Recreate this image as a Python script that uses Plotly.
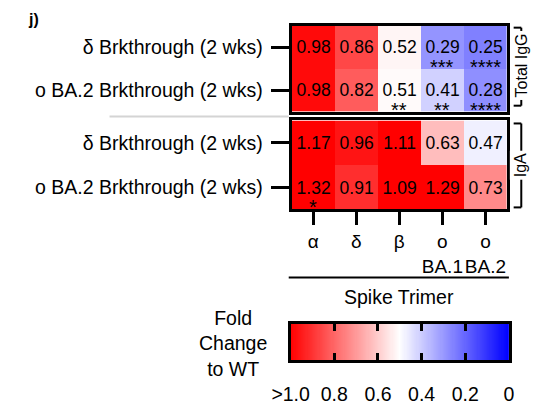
import plotly.graph_objects as go

W, H = 533, 405
FONT = "Arial, 'Liberation Sans', Helvetica, sans-serif"

# ---- data -------------------------------------------------------------
spike_labels = ["α", "δ", "β", "o<br>BA.1", "o<br>BA.2"]
cohorts = ["δ Brkthrough (2 wks)", "o BA.2 Brkthrough (2 wks)"]

igg_fold = [[0.98, 0.86, 0.52, 0.29, 0.25],
            [0.98, 0.82, 0.51, 0.41, 0.28]]
iga_fold = [[1.17, 0.96, 1.11, 0.63, 0.47],
            [1.32, 0.91, 1.09, 1.29, 0.73]]

igg_sig = [["", "", "", "***", "****"],
           ["", "", "**", "**", "****"]]
iga_sig = [["", "", "", "", ""],
           ["*", "", "", "", ""]]

bar_ticks = [1.0, 0.8, 0.6, 0.4, 0.2, 0.0]
bar_ticktext = [">1.0", "0.8", "0.6", "0.4", "0.2", "0"]

# blue (0) -> white (0.5) -> red (>=1)
scale = [[0.0, "rgb(0,0,255)"], [0.5, "rgb(255,255,255)"], [1.0, "rgb(255,0,0)"]]


def px(x):
    return x / W


def py(y):
    return 1 - y / H


fig = go.Figure()

cols = list(range(len(spike_labels)))
rows = list(range(len(cohorts)))

for z, xa, ya in [(igg_fold, "x", "y"), (iga_fold, "x2", "y2")]:
    fig.add_trace(go.Heatmap(
        z=z, x=cols, y=rows, colorscale=scale, zmin=0, zmax=1,
        showscale=False, texttemplate="%{z:.2f}",
        textfont=dict(size=17.5, color="black", family=FONT),
        xaxis=xa, yaxis=ya, hoverinfo="skip"))

# gradient strip used as the colour key (reversed axis: red on the left)
grad = [i / 200 for i in range(201)]
fig.add_trace(go.Heatmap(
    z=[grad], x=grad, y=[0], colorscale=scale, zmin=0, zmax=1,
    showscale=False, xaxis="x3", yaxis="y3", hoverinfo="skip"))

frame = dict(showline=True, linecolor="black", linewidth=3, mirror=True,
             zeroline=False, showgrid=False)
tickfont = dict(size=19.5, color="black", family=FONT)

x_dom = [px(286), px(512)]
fig.update_layout(
    width=W, height=H, margin=dict(l=0, r=0, t=0, b=0),
    paper_bgcolor="white", plot_bgcolor="white",
    font=dict(family=FONT, color="black"),
    xaxis=dict(domain=x_dom, range=[-0.5, 4.5], anchor="y",
               showticklabels=False, ticks="", **frame),
    yaxis=dict(domain=[py(113), py(26)], range=[1.5, -0.5], anchor="x",
               tickvals=rows, ticktext=cohorts, ticks="outside",
               ticklen=18, tickwidth=3, tickcolor="black",
               ticklabelstandoff=4, tickfont=tickfont, **frame),
    xaxis2=dict(domain=x_dom, range=[-0.5, 4.5], anchor="y2",
                tickvals=cols, ticktext=spike_labels, ticks="outside",
                ticklen=13, tickwidth=3, tickcolor="black", tickangle=0,
                tickfont=dict(size=19, color="black", family=FONT), **frame),
    yaxis2=dict(domain=[py(212), py(122)], range=[1.5, -0.5], anchor="x2",
                tickvals=rows, ticktext=cohorts, ticks="outside",
                ticklen=18, tickwidth=3, tickcolor="black",
                ticklabelstandoff=4, tickfont=tickfont, **frame),
    xaxis3=dict(domain=[px(285), px(514)], range=[1, 0], anchor="y3",
                tickvals=bar_ticks, ticktext=bar_ticktext, ticks="inside",
                ticklen=7, tickwidth=3, tickcolor="black", tickangle=0,
                ticklabelstandoff=14, tickfont=tickfont,
                showline=True, linecolor="black", linewidth=3, mirror="ticks",
                zeroline=False, showgrid=False),
    yaxis3=dict(domain=[py(365), py(328)], range=[-0.5, 0.5], anchor="x3",
                showticklabels=False, ticks="", **frame),
)

# significance stars under the values
ann = []
for sig, xa, ya in [(igg_sig, "x", "y"), (iga_sig, "x2", "y2")]:
    for i, r in enumerate(sig):
        for j, s in enumerate(r):
            if s:
                ann.append(dict(x=j, y=i, xref=xa, yref=ya, text=s,
                                showarrow=False, yshift=-20,
                                xanchor="center", yanchor="middle",
                                font=dict(size=20, color="black", family=FONT)))


def label(x, y, text, size=19.5, **kw):
    return dict(x=px(x), y=py(y), xref="paper", yref="paper", text=text,
                showarrow=False, xanchor=kw.pop("xanchor", "center"),
                yanchor="middle",
                font=dict(size=size, color="black", family=FONT), **kw)


# panel letter, axis titles, bracket labels
ann += [
    label(7, 20, "<b>j)</b>", size=16, xanchor="left"),
    label(399, 301, "Spike Trimer"),
    label(225, 348, "Fold<br>Change<br>to WT"),
    label(527, 66, "Total IgG", size=16, textangle=-90, bgcolor="white",
          borderpad=2),
    label(527, 167, "IgA", size=16, textangle=-90, bgcolor="white",
          borderpad=2),
]
fig.update_layout(annotations=ann)

line_k = dict(color="black", width=2)
shapes = [
    # separator between the two isotype blocks
    dict(type="line", xref="paper", yref="paper", x0=px(95), x1=px(283),
         y0=py(118), y1=py(118), line=dict(color="#d4d4d4", width=2)),
    # rule above "Spike Trimer"
    dict(type="line", xref="paper", yref="paper", x0=px(283), x1=px(514),
         y0=py(281), y1=py(281), line=line_k),
]
for top, bot in [(28, 107), (125, 210)]:
    shapes += [
        dict(type="line", xref="paper", yref="paper", x0=px(527), x1=px(527),
             y0=py(top), y1=py(bot), line=line_k, layer="below"),
        dict(type="line", xref="paper", yref="paper", x0=px(519), x1=px(527),
             y0=py(top), y1=py(top), line=line_k),
        dict(type="line", xref="paper", yref="paper", x0=px(519), x1=px(527),
             y0=py(bot), y1=py(bot), line=line_k),
    ]
fig.update_layout(shapes=shapes)

fig.write_html("out.html")
